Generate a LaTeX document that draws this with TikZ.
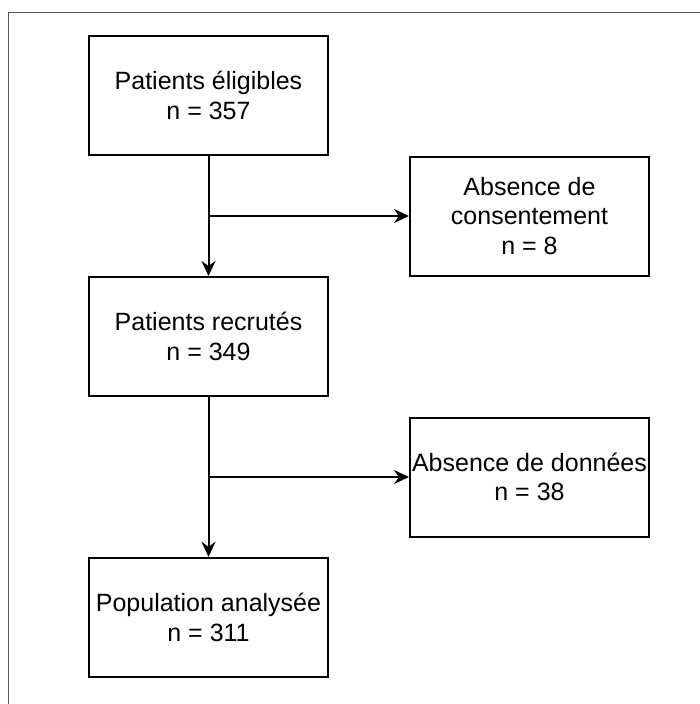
\documentclass[tikz,border=0pt]{standalone}
\usepackage{fontspec}
\setmainfont{Liberation Sans}
\usetikzlibrary{arrows.meta}

\begin{document}
\begin{tikzpicture}[x=1pt,y=-1pt,line width=2pt,
	box/.style={rectangle,draw,line width=2pt,minimum width=239pt,minimum height=119pt,inner sep=0pt,align=center,font=\fontsize{25}{29.7}\selectfont},
	link/.style={line width=2pt,-{Stealth[length=15pt,width=14pt,inset=5pt]}}]
	\useasboundingbox (0,0) rectangle (699,704);
	\draw [line width=1.3pt,draw=black!65] (8.5,720) -- (8.5,12.5) -- (720,12.5);
	\node (eligibles) at (208.5,95.5) [box] {Patients éligibles\\n = 357};
	\node (consent) at (529.5,216) [box] {Absence de\\consentement\\n = 8};
	\node (recrutes) at (208.5,336.5) [box] {Patients recrutés\\n = 349};
	\node (donnees) at (529.5,477) [box] {Absence de données\\n = 38};
	\node (analyse) at (208.5,617.3) [box] {Population analysée\\n = 311};
	\coordinate (split1) at (eligibles.south |- consent.west);
	\coordinate (split2) at (recrutes.south |- donnees.west);
	\draw [link] (eligibles) -- (recrutes);
	\draw [link] (split1) -- (consent);
	\draw [link] (recrutes) -- (analyse);
	\draw [link] (split2) -- (donnees);
\end{tikzpicture}
\end{document}
